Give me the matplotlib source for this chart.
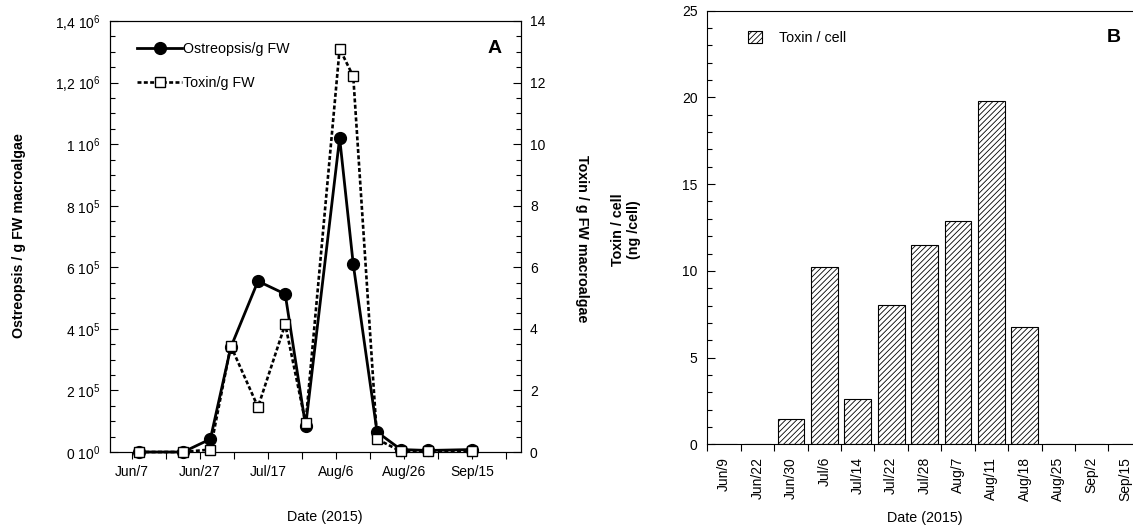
import matplotlib
matplotlib.use('Agg')
import matplotlib.pyplot as plt
import numpy as np
import pandas as pd

plt.rcParams['font.family'] = ['Liberation Sans', 'DejaVu Sans']
plt.rcParams['font.size'] = 10
plt.rcParams['mathtext.fontset'] = 'custom'
plt.rcParams['mathtext.rm'] = 'Liberation Sans'
plt.rcParams['mathtext.it'] = 'Liberation Sans:italic'
plt.rcParams['mathtext.bf'] = 'Liberation Sans:bold'
plt.rcParams['hatch.linewidth'] = 0.6

# sampling dates (2015)
sample_dates = ['2015-06-09', '2015-06-22', '2015-06-30', '2015-07-06', '2015-07-14',
                '2015-07-22', '2015-07-28', '2015-08-07', '2015-08-11', '2015-08-18',
                '2015-08-25', '2015-09-02', '2015-09-15']
ostreopsis = [0, 0, 4.2e4, 3.4e5, 5.55e5, 5.13e5, 8.4e4, 1.02e6, 6.1e5, 6.5e4, 8e3, 5e3, 8e3]
toxin_fw = [0, 0, 0.08, 3.45, 1.46, 4.15, 0.94, 13.1, 12.2, 0.42, 0.02, 0.02, 0.03]

bar_labels = ['Jun/9', 'Jun/22', 'Jun/30', 'Jul/6', 'Jul/14', 'Jul/22', 'Jul/28',
              'Aug/7', 'Aug/11', 'Aug/18', 'Aug/25', 'Sep/2', 'Sep/15']
toxin_cell = [0, 0, 1.45, 10.2, 2.6, 8.05, 11.5, 12.85, 19.8, 6.75, 0, 0, 0]

left_ticks = [0, 2e5, 4e5, 6e5, 8e5, 1e6, 1.2e6, 1.4e6]
left_ticklabels = ['0 10$^0$', '2 10$^5$', '4 10$^5$', '6 10$^5$', '8 10$^5$',
                   '1 10$^6$', '1,2 10$^6$', '1,4 10$^6$']

dates = pd.to_datetime(sample_dates)
FS = 10.3

fig = plt.figure(figsize=(11.33, 5.27), dpi=100)

# ---- panel A
ax = fig.add_axes([0.0971, 0.1423, 0.3627, 0.8179])
ax2 = ax.twinx()

l1, = ax.plot(dates, ostreopsis, '-', color='black', lw=2, marker='o', ms=8.5,
              mfc='black', mec='black', clip_on=False, zorder=3,
              label='Ostreopsis/g FW')
l2, = ax2.plot(dates, toxin_fw, color='black', lw=1.9, ls=(0, (1.5, 0.9)),
               marker='s', ms=6.5, mfc='white', mec='black', mew=1,
               clip_on=False, zorder=3, label='Toxin/g FW')

ax.set_ylim(0, 1.4e6)
ax.set_yticks(left_ticks)
ax.set_yticklabels(left_ticklabels)
ax.set_yticks(np.arange(0, 1.4e6 + 1, 5e4), minor=True)
ax2.set_ylim(0, 14)
ax2.set_yticks(np.arange(0, 15, 2))
ax2.set_yticks(np.arange(0, 14.01, 0.5), minor=True)

xt = pd.date_range('2015-06-07', '2015-09-25', freq='10D')
ax.set_xticks(xt)
ax.set_xticklabels([f'{d:%b}/{d.day}' if i % 2 == 0 else '' for i, d in enumerate(xt)])
ax.set_xlim(pd.Timestamp('2015-06-07') - pd.Timedelta(days=6.5),
            pd.Timestamp('2015-09-25') + pd.Timedelta(days=4.3))

ax.tick_params(axis='y', which='major', direction='in', length=6, width=0.8, pad=7)
ax.tick_params(axis='y', which='minor', direction='in', length=3.5, width=0.8)
ax.tick_params(axis='x', which='major', direction='out', length=5, width=0.8, pad=4)
ax2.tick_params(axis='y', which='major', direction='in', length=6, width=0.8, pad=6.5)
ax2.tick_params(axis='y', which='minor', direction='in', length=3.5, width=0.8)
for a in (ax, ax2):
    for s in a.spines.values():
        s.set_linewidth(0.8)

ax2.legend(handles=[l1, l2], loc='upper left', bbox_to_anchor=(0.066, 0.951),
           frameon=False, borderpad=0, borderaxespad=0, handlelength=3.15,
           handletextpad=0.07, labelspacing=1.4, fontsize=FS)
ax2.text(0.937, 0.937, 'A', transform=ax.transAxes, fontsize=14, fontweight='bold',
         ha='center', va='center')

fig.text(19.5 / 1133, 1 - 236 / 527, 'Ostreopsis / g FW macroalgae', rotation=90,
         ha='center', va='center', fontweight='bold', fontsize=FS)
fig.text(582 / 1133, 1 - 239 / 527, 'Toxin / g FW macroalgae', rotation=270,
         ha='center', va='center', fontweight='bold', fontsize=FS)
fig.text(325 / 1133, 1 - 517 / 527, 'Date (2015)', ha='center', va='center', fontsize=FS)

# ---- panel B
axb = fig.add_axes([0.6243, 0.1569, 0.3835, 0.8228])
n = len(bar_labels)
xpos = np.arange(n)
axb.bar(xpos, toxin_cell, width=0.8, color='white', edgecolor='black', lw=0.8,
        hatch='//////', label='Toxin / cell')
axb.set_xlim(-0.5, n - 0.5)
axb.set_ylim(0, 25)
axb.set_yticks(np.arange(0, 26, 5))
axb.set_yticks(np.arange(0, 25.01, 1), minor=True)
axb.set_xticks(np.arange(n + 1) - 0.5)
axb.set_xticklabels([''] * (n + 1))
axb.set_xticks(xpos, minor=True)
axb.set_xticklabels(bar_labels, minor=True, rotation=90, va='top')
axb.tick_params(axis='x', which='major', direction='out', length=5, width=0.8)
axb.tick_params(axis='x', which='minor', length=0, pad=9)
axb.tick_params(axis='y', which='major', direction='in', length=6, width=0.8, pad=7)
axb.tick_params(axis='y', which='minor', direction='in', length=3.5, width=0.8)
for s in axb.spines.values():
    s.set_linewidth(0.8)

axb.legend(loc='upper left', bbox_to_anchor=(0.094, 0.953), frameon=False,
           borderpad=0, borderaxespad=0, handlelength=0.98, handleheight=0.85,
           handletextpad=1.2, fontsize=FS)
axb.text(0.936, 0.939, 'B', transform=axb.transAxes, fontsize=14, fontweight='bold',
         ha='center', va='center')

fig.text(626 / 1133, 1 - 230 / 527, 'Toxin / cell\n(ng /cell)', rotation=90,
         ha='center', va='center', fontweight='bold', fontsize=FS, multialignment='center')
fig.text(925 / 1133, 1 - 518 / 527, 'Date (2015)', ha='center', va='center', fontsize=FS)

fig.savefig('out.png', dpi=100)
